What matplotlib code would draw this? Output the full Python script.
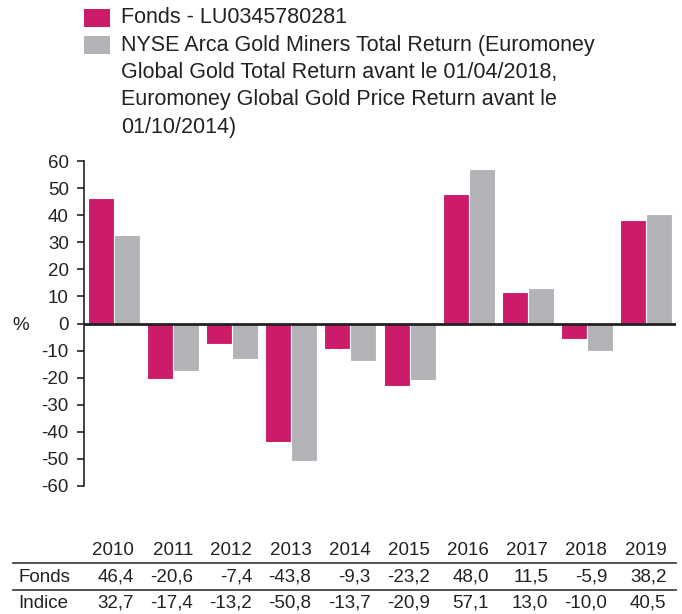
import numpy as np
import matplotlib.pyplot as plt
import matplotlib.transforms as mtransforms
from matplotlib.patches import Rectangle
from matplotlib.lines import Line2D

plt.rcParams['font.family'] = ['Liberation Sans', 'DejaVu Sans']

years = ['2010', '2011', '2012', '2013', '2014', '2015', '2016', '2017', '2018', '2019']
fonds = [46.4, -20.6, -7.4, -43.8, -9.3, -23.2, 48.0, 11.5, -5.9, 38.2]
indice = [32.7, -17.4, -13.2, -50.8, -13.7, -20.9, 57.1, 13.0, -10.0, 40.5]
yticks = list(range(-60, 61, 10))

label_fonds = 'Fonds - LU0345780281'
label_indice = ['NYSE Arca Gold Miners Total Return (Euromoney',
                'Global Gold Total Return avant le 01/04/2018,',
                'Euromoney Global Gold Price Return avant le',
                '01/10/2014)']

MAGENTA = '#cc1c69'
GREY = '#b2b3b6'
TXT = '#222222'

W, H = 682, 614
fig = plt.figure(figsize=(W / 100, H / 100), dpi=100)
ax = fig.add_axes([84 / W, 1 - 486 / H, 592 / W, 325 / H])

x = np.arange(len(years))
bw = 0.44
ax.bar(x - bw / 2, fonds, bw, color=MAGENTA, edgecolor='white', linewidth=0.8, zorder=2)
ax.bar(x + bw / 2, indice, bw, color=GREY, edgecolor='white', linewidth=0.8, zorder=2)
ax.axhline(0, color='#222222', linewidth=2, zorder=3)

ax.set_xlim(-0.5, len(years) - 0.5)
ax.set_ylim(-60, 60)
ax.set_yticks(yticks)
ax.set_yticklabels([str(t) for t in yticks], fontsize=13.5, color=TXT)
ax.set_xticks([])
for s in ['top', 'right', 'bottom']:
    ax.spines[s].set_visible(False)
ax.spines['left'].set_color('#222222')
ax.spines['left'].set_linewidth(1.2)
ax.tick_params(axis='y', length=5, width=1.2, color='#222222', pad=6)

fig.text(21 / W, 1 - 325 / H, '%', fontsize=13.5, color=TXT, ha='center', va='center')

# legend
fig.add_artist(Rectangle((84 / W, 1 - 27 / H), 26 / W, 18 / H, transform=fig.transFigure,
                         facecolor=MAGENTA, edgecolor='none'))
fig.add_artist(Rectangle((84 / W, 1 - 54 / H), 26 / W, 18 / H, transform=fig.transFigure,
                         facecolor=GREY, edgecolor='none'))
fig.text(121 / W, 1 - 17.5 / H, label_fonds, fontsize=15.5, color=TXT, va='center', ha='left')
for k, line in enumerate(label_indice):
    fig.text(121 / W, 1 - (45 + 27.4 * k) / H, line, fontsize=15.5, color=TXT,
             va='center', ha='left')

# data table below the chart
trans = mtransforms.blended_transform_factory(ax.transData, fig.transFigure)
rows = [(None, years, 550.5), ('Fonds', fonds, 577), ('Indice', indice, 603.5)]
for name, vals, ypix in rows:
    yf = 1 - ypix / H
    if name:
        fig.text(18 / W, yf, name, fontsize=13.5, color=TXT, va='center', ha='left')
    for i, v in enumerate(vals):
        s = v if isinstance(v, str) else f'{v:.1f}'.replace('.', ',')
        ax.text(i + 0.34, yf, s, transform=trans, fontsize=13.5, color=TXT,
                va='center', ha='right')

for ypix in [563, 590]:
    fig.add_artist(Line2D([13 / W, 676 / W], [1 - ypix / H] * 2, transform=fig.transFigure,
                          color='#444444', linewidth=1.3))

fig.savefig('out.png', dpi=100)
